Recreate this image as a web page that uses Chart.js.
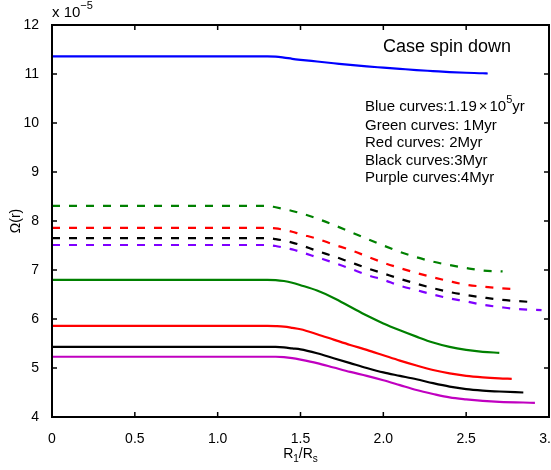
<!DOCTYPE html>
<html>
<head>
<meta charset="utf-8">
<script src="https://cdn.jsdelivr.net/npm/chart.js@4/dist/chart.umd.min.js"></script>
<style>
  html, body { margin: 0; padding: 0; background: #fff; overflow: hidden; }
  #wrap { width: 551px; height: 470px; }
</style>
</head>
<body>
<div id="wrap"><canvas id="spinChart"></canvas></div>
<script>
// R1/Rs sample positions shared by every curve (tails hold the last points)
const xGrid = [0, 1.3, 1.35, 1.4, 1.45, 1.5, 1.6, 1.7, 1.8, 1.9, 2.0, 2.1, 2.2, 2.3, 2.4, 2.5, 2.6];

// Omega(r) in units of 1e-5
const blueVals = [11.36, 11.36, 11.355, 11.335, 11.31, 11.29, 11.255, 11.22, 11.185, 11.155, 11.13, 11.105, 11.08, 11.06, 11.04, 11.025, 11.015];
const blueTailX = [2.63];
const blueTailY = [11.01];

const greenDashVals = [8.31, 8.31, 8.28, 8.245, 8.205, 8.16, 8.05, 7.92, 7.78, 7.64, 7.50, 7.37, 7.26, 7.17, 7.10, 7.04, 6.99];
const greenDashTailX = [2.72];
const greenDashTailY = [6.97];

const redDashVals = [7.86, 7.86, 7.85, 7.82, 7.78, 7.73, 7.64, 7.52, 7.41, 7.28, 7.15, 7.04, 6.94, 6.85, 6.77, 6.70, 6.66];
const redDashTailX = [2.7, 2.8];
const redDashTailY = [6.63, 6.61];

const blackDashVals = [7.65, 7.65, 7.63, 7.60, 7.56, 7.51, 7.39, 7.28, 7.16, 7.04, 6.93, 6.82, 6.72, 6.63, 6.55, 6.49, 6.44];
const blackDashTailX = [2.7, 2.875];
const blackDashTailY = [6.395, 6.35];

const purpleDashVals = [7.51, 7.51, 7.49, 7.455, 7.42, 7.37, 7.26, 7.15, 7.03, 6.90, 6.80, 6.68, 6.59, 6.50, 6.42, 6.36, 6.29];
const purpleDashTailX = [2.7, 2.8, 2.955];
const purpleDashTailY = [6.245, 6.205, 6.18];

const greenVals = [6.80, 6.80, 6.795, 6.775, 6.74, 6.69, 6.58, 6.43, 6.25, 6.07, 5.91, 5.77, 5.64, 5.52, 5.43, 5.37, 5.33];
const greenTailX = [2.7];
const greenTailY = [5.31];

const redVals = [5.86, 5.86, 5.855, 5.845, 5.82, 5.79, 5.69, 5.58, 5.47, 5.37, 5.26, 5.15, 5.05, 4.96, 4.89, 4.84, 4.81];
const redTailX = [2.7, 2.775];
const redTailY = [4.79, 4.78];

const blackVals = [5.43, 5.43, 5.43, 5.42, 5.40, 5.38, 5.30, 5.20, 5.10, 5.00, 4.91, 4.84, 4.77, 4.69, 4.62, 4.57, 4.54];
const blackTailX = [2.7, 2.845];
const blackTailY = [4.52, 4.50];

const magentaVals = [5.23, 5.23, 5.23, 5.22, 5.20, 5.17, 5.10, 5.01, 4.92, 4.84, 4.75, 4.65, 4.55, 4.47, 4.40, 4.36, 4.33];
const magentaTailX = [2.7, 2.915];
const magentaTailY = [4.31, 4.29];

const noteLines = ["Green curves: 1Myr", "Red curves: 2Myr", "Black curves:3Myr", "Purple curves:4Myr"];

const FONT = '"Liberation Sans", Arial, Helvetica, sans-serif';

function pts(vals, tailX, tailY) {
  const out = xGrid.map((x, i) => ({ x, y: vals[i] }));
  tailX.forEach((x, i) => out.push({ x, y: tailY[i] }));
  return out;
}

function curve(vals, tailX, tailY, color, dashed) {
  return {
    data: pts(vals, tailX, tailY),
    borderColor: color,
    borderWidth: 2.2,
    borderDash: dashed ? [8, 9] : [],
    pointRadius: 0,
    fill: false,
    cubicInterpolationMode: "monotone",
  };
}

// draw a row of text pieces, some raised or lowered
function runs(ctx, x, y, parts) {
  parts.forEach(p => {
    ctx.font = p.size + "px " + FONT;
    x += p.pre || 0;
    ctx.fillText(p.t, x, y + (p.dy || 0));
    x += ctx.measureText(p.t).width + (p.post || 0);
  });
  return x;
}

const framePlugin = {
  id: "frame",
  afterDatasetsDraw(chart) {
    const { ctx, chartArea: a, scales: { x, y } } = chart;
    ctx.save();
    ctx.strokeStyle = "#000";
    ctx.lineWidth = 1.5;
    ctx.beginPath();
    x.ticks.forEach(t => {
      const px = x.getPixelForValue(t.value);
      ctx.moveTo(px, a.bottom); ctx.lineTo(px, a.bottom - 5);
      ctx.moveTo(px, a.top); ctx.lineTo(px, a.top + 5);
    });
    y.ticks.forEach(t => {
      const py = y.getPixelForValue(t.value);
      ctx.moveTo(a.left, py); ctx.lineTo(a.left + 5, py);
      ctx.moveTo(a.right, py); ctx.lineTo(a.right - 5, py);
    });
    ctx.stroke();
    ctx.lineWidth = 2;
    ctx.strokeRect(a.left, a.top, a.right - a.left, a.bottom - a.top);
    ctx.restore();
  },
  afterDraw(chart) {
    const { ctx } = chart;
    ctx.save();
    ctx.fillStyle = "#000";
    ctx.textBaseline = "alphabetic";
    ctx.textAlign = "left";

    // exponent above the y axis
    runs(ctx, 52, 17, [{ t: "x 10", size: 15 }, { t: "\u22125", size: 11, dy: -8 }]);

    ctx.font = "18px " + FONT;
    ctx.fillText("Case spin down", 383, 52);

    runs(ctx, 365, 111, [
      { t: "Blue curves:1.19", size: 15 },
      { t: "\u00d7", size: 15, pre: 2, post: 2 },
      { t: "10", size: 15 },
      { t: "5", size: 11, dy: -8 },
      { t: "yr", size: 15 },
    ]);
    ctx.font = "15px " + FONT;
    noteLines.forEach((s, i) => ctx.fillText(s, 365, 129.5 + i * 17.6));

    // x axis title with subscripts
    const parts = [
      { t: "R", size: 14 }, { t: "1", size: 10, dy: 4 },
      { t: "/R", size: 14 }, { t: "s", size: 10, dy: 4 },
    ];
    let w = 0;
    parts.forEach(p => { ctx.font = p.size + "px " + FONT; w += ctx.measureText(p.t).width; });
    const cx = chart.scales.x.getPixelForValue(1.5);
    runs(ctx, cx - w / 2, 458, parts);
    ctx.restore();
  },
};

new Chart(document.getElementById("spinChart"), {
  type: "line",
  data: {
    datasets: [
      curve(blueVals, blueTailX, blueTailY, "#0000ff", false),
      curve(greenDashVals, greenDashTailX, greenDashTailY, "#008000", true),
      curve(redDashVals, redDashTailX, redDashTailY, "#ff0000", true),
      curve(blackDashVals, blackDashTailX, blackDashTailY, "#000000", true),
      curve(purpleDashVals, purpleDashTailX, purpleDashTailY, "#7f00ff", true),
      curve(greenVals, greenTailX, greenTailY, "#008000", false),
      curve(redVals, redTailX, redTailY, "#ff0000", false),
      curve(blackVals, blackTailX, blackTailY, "#000000", false),
      curve(magentaVals, magentaTailX, magentaTailY, "#c000c0", false),
    ],
  },
  options: {
    responsive: true,
    maintainAspectRatio: false,
    animation: false,
    layout: { padding: { top: 25, right: 2, left: 0, bottom: 0 } },
    plugins: { legend: { display: false }, tooltip: { enabled: false } },
    scales: {
      x: {
        type: "linear",
        min: 0,
        max: 3,
        ticks: { stepSize: 0.5, padding: 6, color: "#000", font: { family: FONT, size: 14 }, maxRotation: 0 },
        grid: { display: false },
        border: { display: false },
        afterFit: s => { s.height = 53; s.paddingRight = 0; s.paddingLeft = 0; },
      },
      y: {
        min: 4,
        max: 12,
        ticks: { stepSize: 1, padding: 5, color: "#000", font: { family: FONT, size: 14 } },
        grid: { display: false },
        border: { display: false },
        title: { display: true, text: "\u03a9(r)", color: "#000", font: { family: FONT, size: 14 }, padding: { top: 8, bottom: 0 } },
        afterFit: s => { s.width = 52; },
      },
    },
  },
  plugins: [framePlugin],
});
</script>
</body>
</html>
